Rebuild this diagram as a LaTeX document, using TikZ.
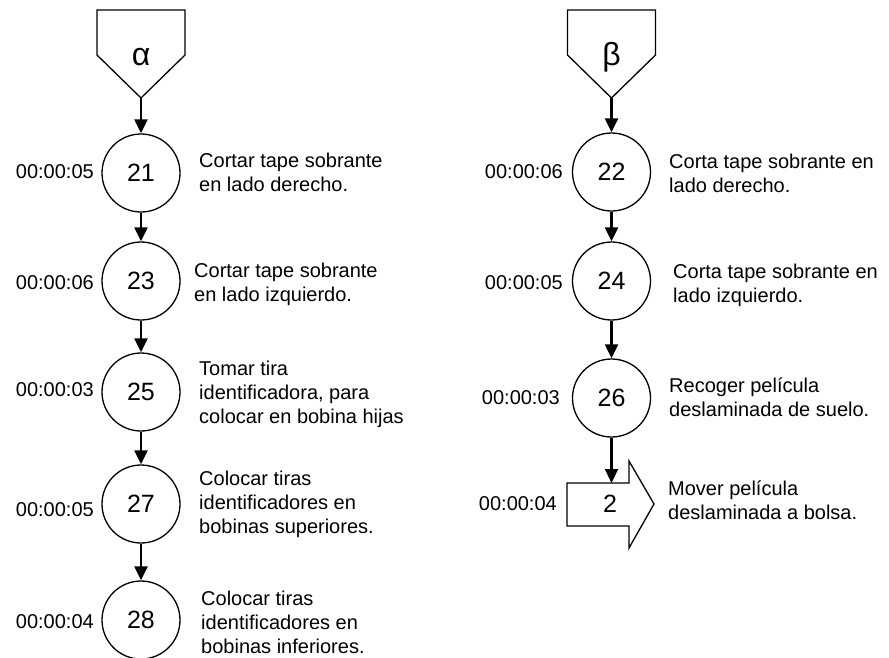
\documentclass[tikz,border=0pt]{standalone}
\usepackage{fontspec}
\setmainfont{Liberation Sans}
\usetikzlibrary{arrows.meta}
\begin{document}
\begin{tikzpicture}[x=1pt,y=-1pt,
  opcircle/.style={draw,circle,line width=1.3pt,minimum size=78pt,inner sep=0pt,font=\fontsize{25}{30}\selectfont},
  flow/.style={-{Triangle[width=13pt,length=14pt]},line width=2.2pt},
  timelabel/.style={anchor=east,inner sep=0pt,font=\fontsize{20}{24}\selectfont},
  desc/.style={anchor=west,inner sep=0pt,align=left,font=\fontsize{20}{24}\selectfont},
  outline/.style={draw,line width=1.3pt,line join=miter},
  greek/.style={anchor=base,inner sep=0pt,font=\fontsize{32}{36}\selectfont}]
\useasboundingbox (0,0) rectangle (889,657);

% ---------- left column (alpha) ----------
\draw[outline] (97,10) -- (185,10) -- (185,55) -- (141,98) -- (97,55) -- cycle;
\coordinate (ta) at (141,98);
\node[greek] (alpha) at (141,65) {α};

\node[opcircle] (c21) at (141,173) {21};
\node[opcircle] (c23) at (141,281) {23};
\node[opcircle] (c25) at (141,392) {25};
\node[opcircle] (c27) at (141,504) {27};
\node[opcircle] (c28) at (141,620) {28};

\draw[flow] (ta) -- (c21);
\draw[flow] (c21) -- (c23);
\draw[flow] (c23) -- (c25);
\draw[flow] (c25) -- (c27);
\draw[flow] (c27) -- (c28);

\node[timelabel] (t21) at (94,172) {00:00:05};
\node[timelabel] (t23) at (94,283) {00:00:06};
\node[timelabel] (t25) at (94,390) {00:00:03};
\node[timelabel] (t27) at (94,510) {00:00:05};
\node[timelabel] (t28) at (94,622) {00:00:04};

\node[desc] (d21) at (199,172.5) {Cortar tape sobrante\\en lado derecho.};
\node[desc] (d23) at (194,284) {Cortar tape sobrante\\en lado izquierdo.};
\node[desc] (d25) at (199,394) {Tomar tira\\identificadora, para\\colocar en bobina hijas};
\node[desc] (d27) at (199,504) {Colocar tiras\\identificadores en\\bobinas superiores.};
\node[desc] (d28) at (201,622.5) {Colocar tiras\\identificadores en\\bobinas inferiores.};

% ---------- right column (beta) ----------
\draw[outline] (567.5,10) -- (655.5,10) -- (655.5,55) -- (611.5,98) -- (567.5,55) -- cycle;
\coordinate (tb) at (611.5,98);
\node[greek] (beta) at (611.5,65) {β};

\node[opcircle] (c22) at (611.5,172) {22};
\node[opcircle] (c24) at (611.5,281) {24};
\node[opcircle] (c26) at (611.5,398) {26};

% transport arrow
\draw[outline] (567,483) -- (629,483) -- (629,461) -- (654,504) -- (629,548) -- (629,526) -- (567,526) -- cycle;
\node[inner sep=0pt,font=\fontsize{25}{30}\selectfont] (s2) at (610,504) {2};
\coordinate (s2top) at (611.5,483);

\draw[flow] (tb) -- (c22);
\draw[flow] (c22) -- (c24);
\draw[flow] (c24) -- (c26);
\draw[flow] (c26) -- (s2top);

\node[timelabel] (t22) at (563,172) {00:00:06};
\node[timelabel] (t24) at (563,283) {00:00:05};
\node[timelabel] (t26) at (560,398) {00:00:03};
\node[timelabel] (t2) at (557,504) {00:00:04};

\node[desc] (d22) at (669,173) {Corta tape sobrante en\\lado derecho.};
\node[desc] (d24) at (673,285) {Corta tape sobrante en\\lado izquierdo.};
\node[desc] (d26) at (669,397.5) {Recoger película\\deslaminada de suelo.};
\node[desc] (d2) at (668,500) {Mover película\\deslaminada a bolsa.};
\end{tikzpicture}
\end{document}
